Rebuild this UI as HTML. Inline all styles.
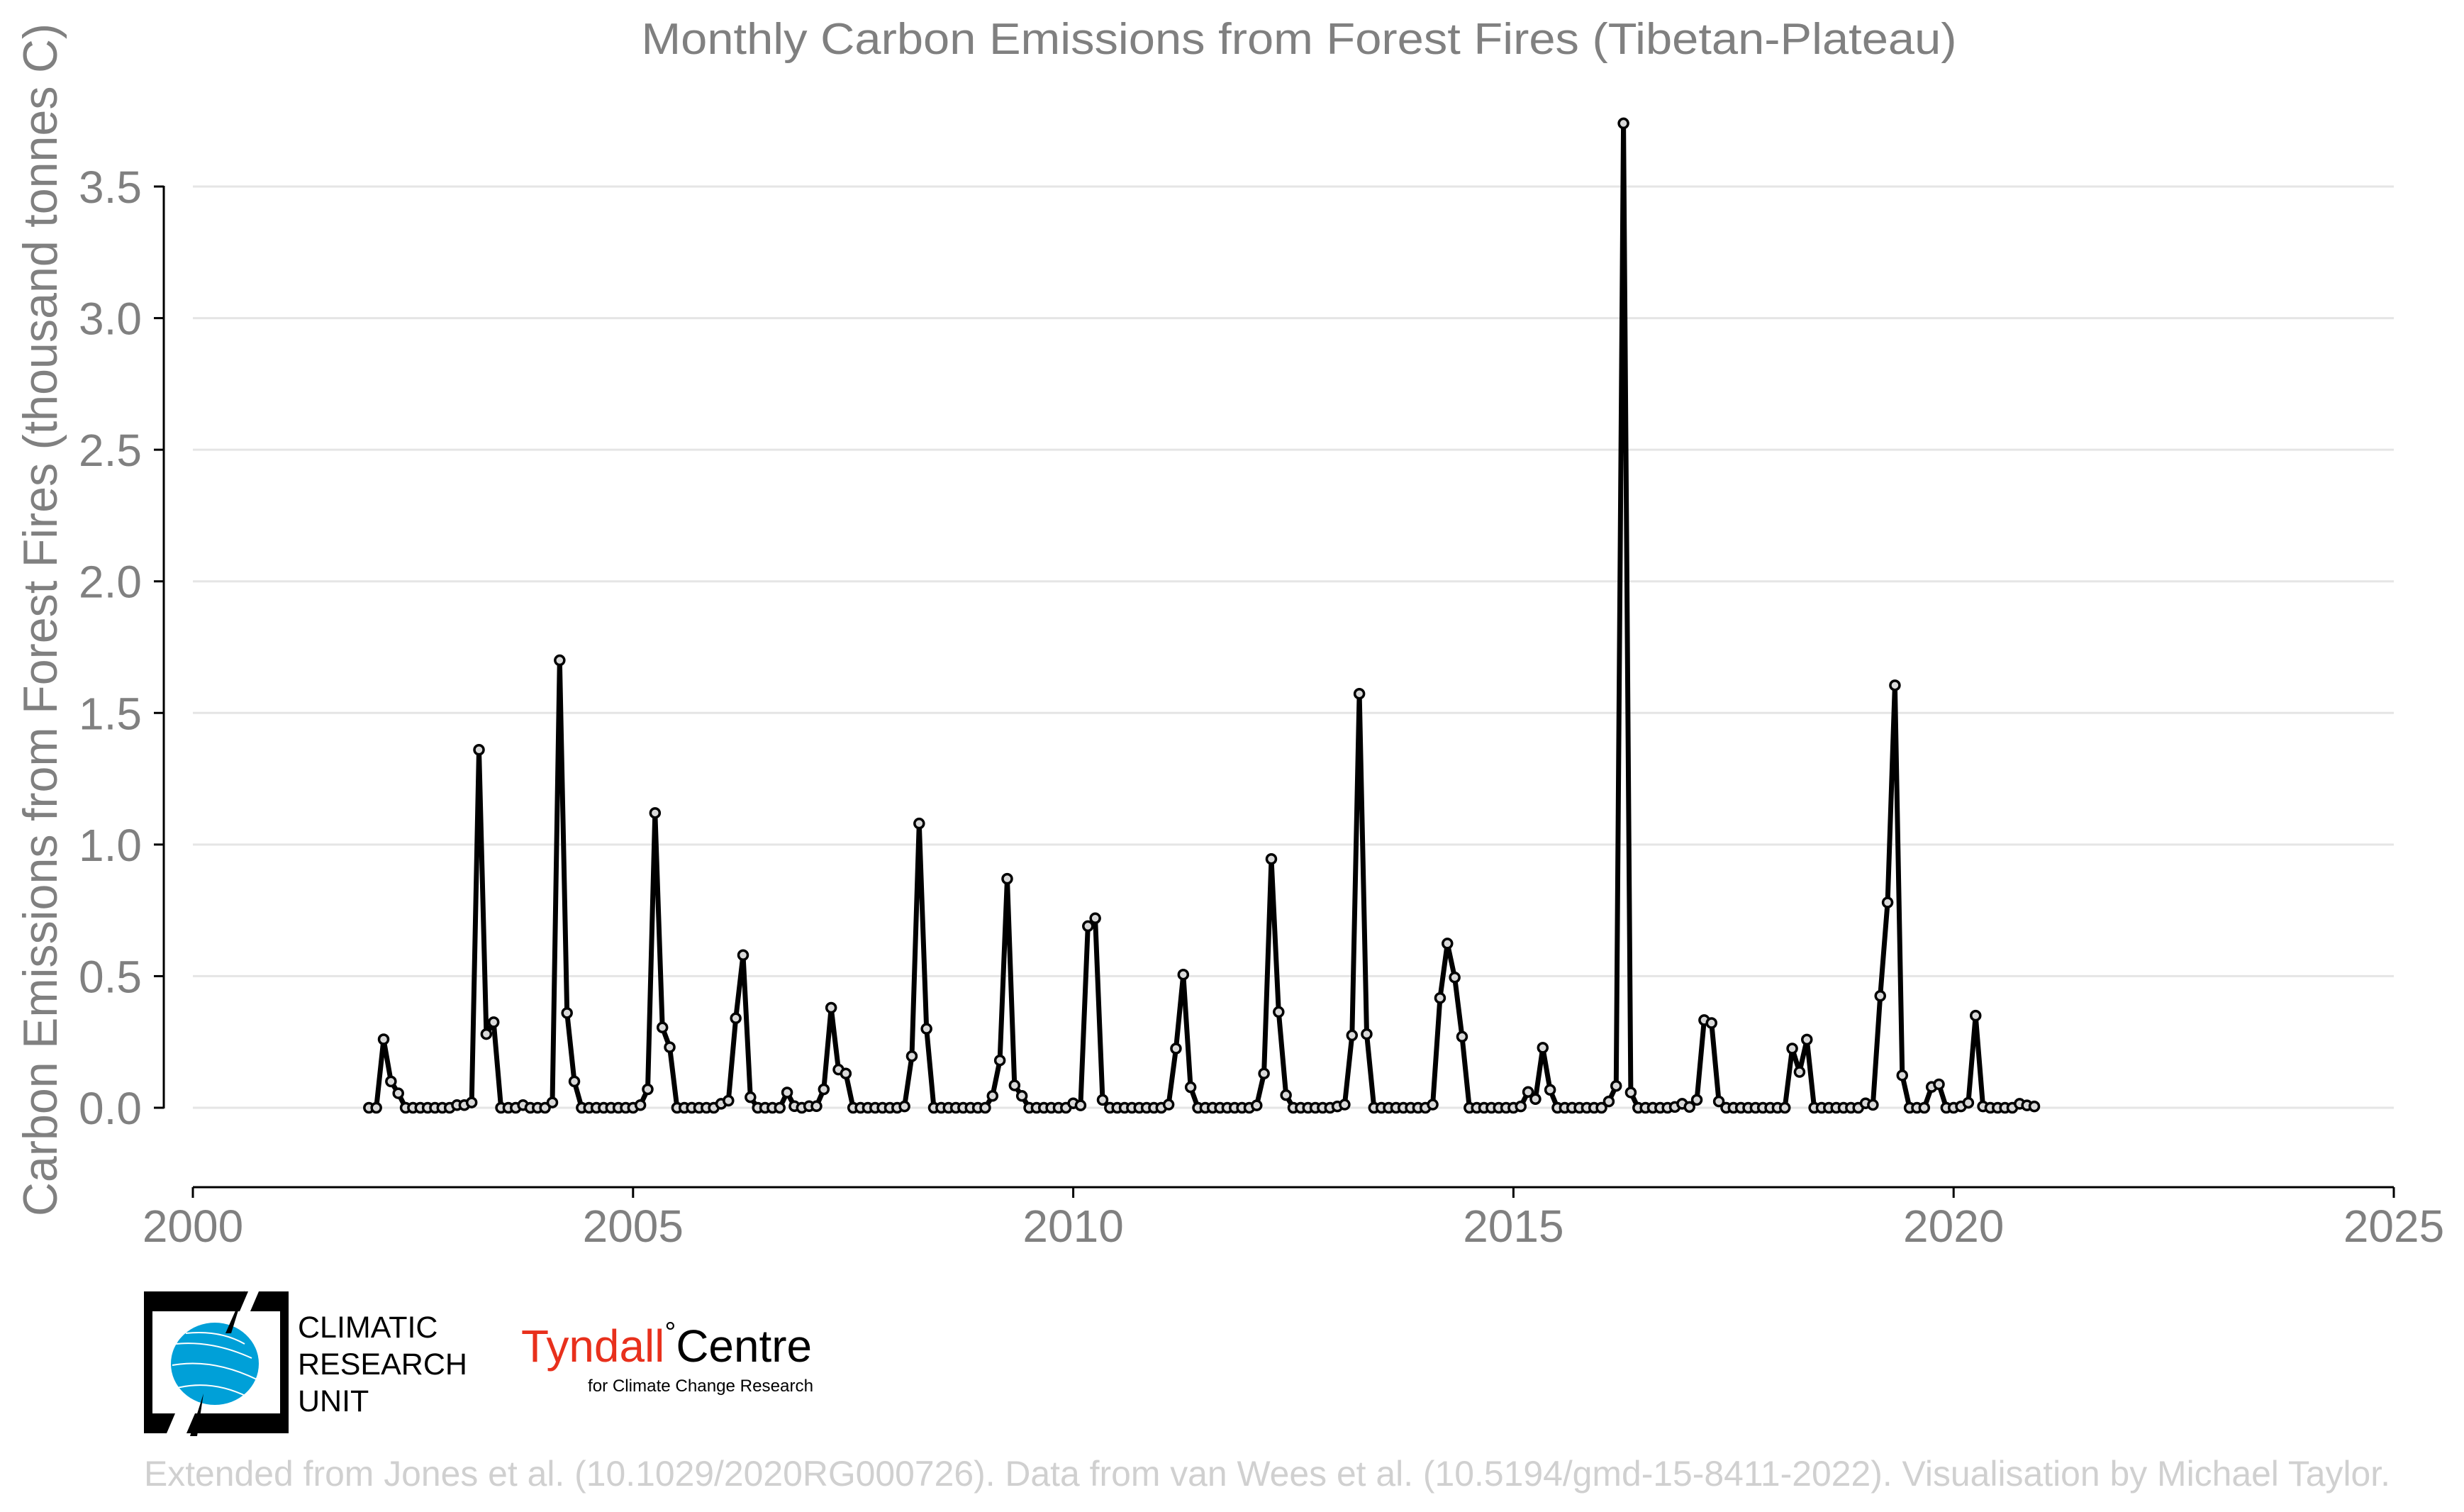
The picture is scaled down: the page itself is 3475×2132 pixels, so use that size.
<!DOCTYPE html>
<html><head><meta charset="utf-8">
<style>
html,body{margin:0;padding:0;background:#fff;}
svg{display:block;font-family:"Liberation Sans",Arial,sans-serif;}
</style></head>
<body>
<svg id="chart" width="3475" height="2132" viewBox="0 0 3475 2132" xmlns="http://www.w3.org/2000/svg">
  <rect width="3475" height="2132" fill="#fff"/>
  <text x="1832" y="76" font-size="62" fill="#808080" text-anchor="middle" textLength="1855" lengthAdjust="spacingAndGlyphs">Monthly Carbon Emissions from Forest Fires (Tibetan-Plateau)</text>
  <text x="0" y="0" font-size="68" fill="#808080" text-anchor="middle" transform="translate(80,874) rotate(-90)" textLength="1682" lengthAdjust="spacingAndGlyphs">Carbon Emissions from Forest Fires (thousand tonnes C)</text>
  <g id="grid"></g>
  <g id="yaxis"></g>
  <g id="xaxis"></g>
  <g id="series"></g>

  <g>
    <path d="M203 1821 H350 L338 1849 H215 V1993 H247 L235 2021 H203 Z" fill="#000"/>
    <path d="M407 1821 H365 L353 1849 H395 V1993 H275 L263 2021 H407 Z" fill="#000"/>
    <ellipse cx="303" cy="1923" rx="62" ry="58" fill="#00a0d8"/>
    <path d="M248 1895 Q300 1890 355 1915 M243 1925 Q300 1915 362 1945 M250 1957 Q300 1945 350 1970 M262 1880 Q310 1875 345 1895" stroke="#fff" stroke-width="2" fill="none"/>
    <path d="M345 1819 L326 1880 L318 1880 Z M287 1965 L268 2025 L278 2025 Z" fill="#000"/>
    <text x="420" y="1886" font-size="43" fill="#000">CLIMATIC</text>
    <text x="420" y="1938" font-size="43" fill="#000">RESEARCH</text>
    <text x="420" y="1990" font-size="43" fill="#000">UNIT</text>
  </g>
  <g>
    <text x="735" y="1920" font-size="64" fill="#e8301c" textLength="410" lengthAdjust="spacingAndGlyphs">Tyndall<tspan fill="#000" font-size="40" dy="-28">°</tspan><tspan fill="#000" font-size="64" dy="28">Centre</tspan></text>
    <text x="829" y="1962" font-size="24" fill="#000" textLength="318" lengthAdjust="spacingAndGlyphs">for Climate Change Research</text>
  </g>
  <text x="203" y="2095" font-size="50" fill="#d0d0d0" textLength="3168" lengthAdjust="spacingAndGlyphs">Extended from Jones et al. (10.1029/2020RG000726). Data from van Wees et al. (10.5194/gmd-15-8411-2022). Visualisation by Michael Taylor.</text>
</svg>
<script>
const startYear = 2002;
const emissions = [
 0,0,0.26,0.10,0.055,0,0,0,0,0,0,0,
 0.01,0.01,0.02,1.36,0.28,0.325,0,0,0,0.01,0,0,
 0,0.02,1.70,0.36,0.10,0,0,0,0,0,0,0,
 0,0.01,0.07,1.12,0.305,0.23,0,0,0,0,0,0,
 0.015,0.027,0.34,0.58,0.04,0,0,0,0,0.058,0.006,0,
 0.006,0.006,0.07,0.38,0.145,0.13,0,0,0,0,0,0,
 0,0.005,0.196,1.08,0.30,0,0,0,0,0,0,0,
 0,0.045,0.18,0.87,0.085,0.045,0,0,0,0,0,0,
 0.017,0.009,0.69,0.72,0.03,0,0,0,0,0,0,0,
 0,0.012,0.225,0.506,0.078,0,0,0,0,0,0,0,
 0,0.009,0.13,0.945,0.364,0.048,0,0,0,0,0,0,
 0.005,0.012,0.275,1.573,0.28,0,0,0,0,0,0,0,
 0,0.012,0.417,0.624,0.495,0.27,0,0,0,0,0,0,
 0,0.005,0.06,0.033,0.228,0.068,0,0,0,0,0,0,
 0,0.024,0.083,3.74,0.058,0,0,0,0,0,0.003,0.015,
 0.003,0.03,0.333,0.322,0.024,0,0,0,0,0,0,0,
 0,0,0.225,0.136,0.259,0,0,0,0,0,0,0,
 0.017,0.011,0.425,0.78,1.605,0.123,0,0,0,0.079,0.089,0,
 0,0.005,0.019,0.35,0.005,0,0,0,0,0.015,0.009,0.005
];
const yTicks = [0,0.5,1.0,1.5,2.0,2.5,3.0,3.5];
const yTickLabels = ["0.0","0.5","1.0","1.5","2.0","2.5","3.0","3.5"];
const xTicks = [2000,2005,2010,2015,2020,2025];

const NS = "http://www.w3.org/2000/svg";
const X0 = 272, X1 = 3376, Y0 = 1562, Y35 = 263;
function xs(t){ return X0 + (t - 2000) / 25 * (X1 - X0); }
function ys(v){ return Y0 - v / 3.5 * (Y0 - Y35); }
function mk(tag, attrs, parent){ const e = document.createElementNS(NS, tag); for (const k in attrs) e.setAttribute(k, attrs[k]); parent.appendChild(e); return e; }

const grid = document.getElementById('grid');
const yaxis = document.getElementById('yaxis');
const xaxis = document.getElementById('xaxis');
const series = document.getElementById('series');

yTicks.forEach((v, i) => {
  const g = mk('line', {x1: X0, x2: X1, y1: ys(v), y2: ys(v), stroke: '#e5e5e5', 'stroke-width': 3}, grid);
  
  
  const t = mk('line', {x1: 217, x2: 231, y1: ys(v), y2: ys(v), stroke: '#000', 'stroke-width': 3}, yaxis);
  
  
  const l = mk('text', {x: 200, y: ys(v) + 23, 'font-size': 64, fill: '#808080', 'text-anchor': 'end'}, yaxis);
  l.textContent = yTickLabels[i];
  
  
});
const yl = mk('line', {x1: 231, x2: 231, y1: ys(3.5) - 1, y2: ys(0) + 1, stroke: '#000', 'stroke-width': 3}, yaxis);



const xl = mk('line', {x1: X0, x2: X1, y1: 1674, y2: 1674, stroke: '#000', 'stroke-width': 3}, xaxis);


xTicks.forEach(yr => {
  const t = mk('line', {x1: xs(yr), x2: xs(yr), y1: 1674, y2: 1689, stroke: '#000', 'stroke-width': 3}, xaxis);
  
  
  const l = mk('text', {x: xs(yr), y: 1751, 'font-size': 64, fill: '#808080', 'text-anchor': 'middle'}, xaxis);
  l.textContent = String(yr);
  
  
});

const pts = emissions.map((v, i) => [xs(startYear + i / 12), ys(v)]);
const line = mk('polyline', {points: pts.map(p => p[0].toFixed(1) + ',' + p[1].toFixed(1)).join(' '), fill: 'none', stroke: '#000', 'stroke-width': 7, 'stroke-linejoin': 'round'}, series);


pts.forEach(p => {
  const c = mk('circle', {cx: p[0], cy: p[1], r: 6.5, fill: '#d9d9d9', stroke: '#000', 'stroke-width': 3.5}, series);
  
  
});
</script>
</body></html>
